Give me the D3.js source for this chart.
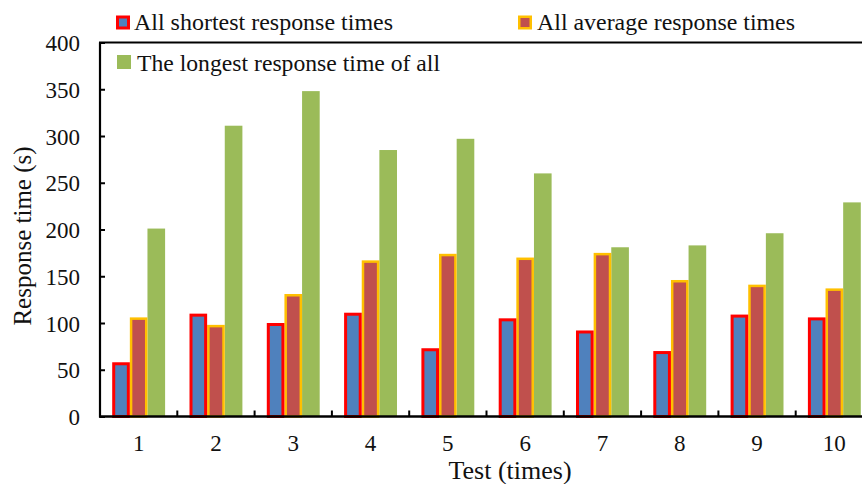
<!DOCTYPE html>
<html>
<head>
<meta charset="utf-8">
<script src="https://cdn.jsdelivr.net/npm/d3@7"></script>
<style>
  html, body { margin: 0; padding: 0; background: #fff; }
  svg { display: block; }
</style>
</head>
<body>
<svg id="chart" width="862" height="484"></svg>
<script>
// ---- data ----
const categories = ["1", "2", "3", "4", "5", "6", "7", "8", "9", "10"];
const seriesNames = ["All shortest response times", "All average response times", "The longest response time of all"];
const shortestTimes = [58, 110, 100, 111, 73, 105, 92, 70, 109, 106];
const averageTimes  = [106, 98, 131, 167, 174, 170, 175, 146, 141, 137];
const longestTimes  = [201, 311, 348, 285, 297, 260, 181, 183, 196, 229];
const yTicks = [0, 50, 100, 150, 200, 250, 300, 350, 400];
const xTitle = "Test (times)";
const yTitle = "Response time (s)";

const seriesValues = [shortestTimes, averageTimes, longestTimes];
const fills   = ["#4F81BD", "#C0504D", "#9BBB59"];
const strokes = ["#FF0000", "#FFC000", null];
const strokeW = [3, 2.5, 0];
const FONT = "Liberation Serif";

// ---- layout ----
const pLeft = 100, pTop = 42.5, pBottom = 416.5, pRight = 873;
const svg = d3.select("#chart");

const x = d3.scaleBand().domain(categories).range([pLeft, pRight]).paddingInner(0).paddingOuter(0);
const bw = x.bandwidth();
const groupPad = 12.2;
const x1 = d3.scaleBand().domain(d3.range(seriesNames.length)).range([groupPad, bw - groupPad]).padding(0);
const y = d3.scaleLinear().domain([0, 400]).range([pBottom, pTop]);

// ---- bars ----
const rows = [];
categories.forEach((c, i) => {
  seriesValues.forEach((vals, s) => rows.push({c, s, v: vals[i]}));
});

const order = [2, 1, 0];
order.forEach(s => {
  const sw = strokeW[s];
  svg.append("g").selectAll("rect")
    .data(rows.filter(r => r.s === s))
    .join("rect")
    .attr("x", d => x(d.c) + x1(s) + sw / 2)
    .attr("y", d => y(d.v) + sw / 2)
    .attr("width", x1.bandwidth() - sw)
    .attr("height", d => Math.max(0, pBottom - y(d.v) - sw / 2))
    .attr("fill", fills[s])
    .attr("stroke", strokes[s] || "none")
    .attr("stroke-width", sw);
});

// ---- axes / frame ----
const yAxis = d3.axisLeft(y).tickValues(yTicks).tickSize(-5).tickPadding(20);
const gy = svg.append("g").attr("transform", `translate(${pLeft},0)`).call(yAxis)
  .attr("font-family", FONT).attr("font-size", 23);
gy.select(".domain").remove();
gy.selectAll(".tick line").attr("stroke", "#000").attr("stroke-width", 2);
gy.selectAll(".tick text").attr("fill", "#111").attr("x", -20).attr("dy", "0.35em");

// category boundary ticks on bottom axis (pointing up)
const boundaries = categories.slice(1).map(c => x(c));
svg.append("g").selectAll("line").data(boundaries).join("line")
  .attr("x1", d => d).attr("x2", d => d)
  .attr("y1", pBottom).attr("y2", pBottom - 6)
  .attr("stroke", "#000").attr("stroke-width", 2);

// frame lines
svg.append("line").attr("x1", pLeft).attr("x2", pLeft).attr("y1", pTop).attr("y2", pBottom + 1)
  .attr("stroke", "#000").attr("stroke-width", 2.2);
svg.append("line").attr("x1", pLeft - 1).attr("x2", pRight).attr("y1", pBottom).attr("y2", pBottom)
  .attr("stroke", "#000").attr("stroke-width", 2.6);
svg.append("line").attr("x1", pLeft - 1).attr("x2", pRight).attr("y1", pTop).attr("y2", pTop)
  .attr("stroke", "#000").attr("stroke-width", 2.2);

// x tick labels
svg.append("g").selectAll("text").data(categories).join("text")
  .attr("x", d => x(d) + bw / 2)
  .attr("y", 451)
  .attr("text-anchor", "middle")
  .attr("font-size", 23)
  .text(d => d);

// axis titles
svg.append("text").attr("x", 510).attr("y", 479).attr("text-anchor", "middle")
  .attr("font-size", 26).text(xTitle);
svg.append("text").attr("transform", "translate(31,236) rotate(-90)").attr("text-anchor", "middle")
  .attr("font-size", 25).text(yTitle);

// ---- legend ----
const legendItems = [
  {s: 0, mx: 116, my: 15.5, tx: 134, ty: 30, w: 259},
  {s: 1, mx: 518, my: 15.5, tx: 537, ty: 30, w: 258},
  {s: 2, mx: 117, my: 55, tx: 137, ty: 70.5, w: 303}
];
legendItems.forEach(it => {
  const s = it.s;
  const sw = strokeW[s];
  const size = 14;
  svg.append("rect")
    .attr("x", it.mx + sw / 2).attr("y", it.my + sw / 2)
    .attr("width", size - sw).attr("height", size - sw)
    .attr("fill", fills[s])
    .attr("stroke", strokes[s] || "none").attr("stroke-width", sw);
  svg.append("text").attr("x", it.tx).attr("y", it.ty)
    .attr("font-size", 23)
    .attr("textLength", it.w).attr("lengthAdjust", "spacingAndGlyphs")
    .text(seriesNames[s]);
});

// apply the serif font to all text
svg.selectAll("text").style("font-family", FONT).attr("fill", "#111");
</script>
</body>
</html>
